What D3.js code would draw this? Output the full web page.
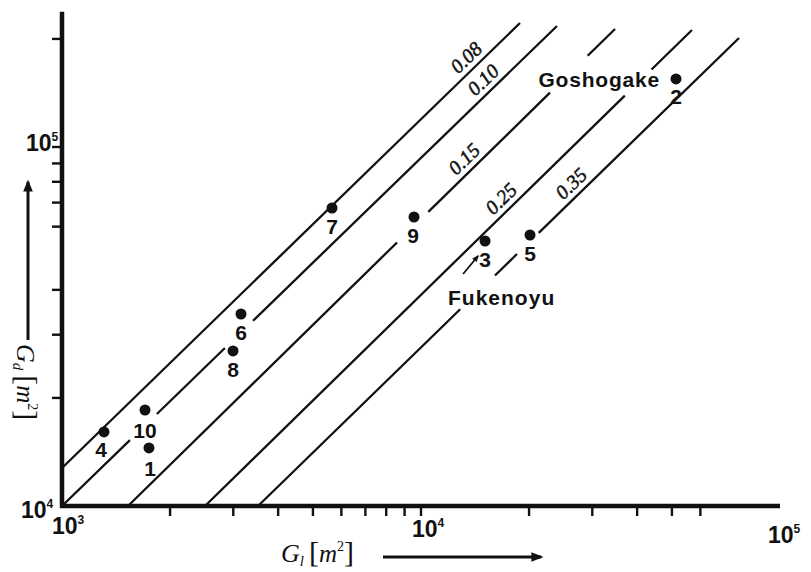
<!DOCTYPE html>
<html>
<head>
<meta charset="utf-8">
<script src="https://cdn.jsdelivr.net/npm/d3@7"></script>
<style>
  body { margin: 0; background: #fff; }
  svg { display: block; }
  .num  { font-family: "Liberation Sans", Arial, sans-serif; font-weight: bold; fill: #111; }
  .ser  { font-family: "Liberation Serif", "Times New Roman", serif; fill: #111; }
</style>
</head>
<body>
<svg id="chart" width="811" height="572"></svg>
<script>
// ── data ──
const pointIds = ["1", "2", "3", "4", "5", "6", "7", "8", "9", "10"];
const pointGl  = [1747, 51320, 15080, 1309, 20120, 3152, 5651, 2995, 9561, 1703];
const pointGd  = [14510, 154700, 54720, 16080, 56870, 34260, 67620, 27030, 63830, 18510];

// constant-ratio lines (Gl, Gd end points) and the gaps left for labels
const ratioLabels = ["0.08", "0.10", "0.15", "0.25", "0.35"];
const lineStart = [[1000, 12760], [1000, 10000], [1527, 10000], [2502, 10000], [3516, 10000]];
const lineEnd   = [[18870, 221500], [23920, 217300], [34710, 213200], [56860, 211800], [76880, 201200]];
const lineGaps  = [
  [],
  [[1546, 1838], [2843, 3405]],
  [[8575, 10480], [22870, 29120]],
  [[36960, 43870]],
  [[12860, 16070], [18510, 21280]]
];
const ratioLabelGl = [14140, 15770, 13960, 17700, 27730];

const xMinorTicks = [2e3, 3e3, 4e3, 5e3, 6e3, 7e3, 8e3, 9e3, 1e4, 2e4, 3e4, 4e4, 5e4, 6e4];
const yMinorTicks = [2e4, 3e4, 4e4, 6e4, 7e4, 8e4, 9e4, 1e5, 2e5];
const xDecades = [["10", "3"], ["10", "4"], ["10", "5"]];
const yDecades = [["10", "4"], ["10", "5"]];

// ── scales ──
const x = d3.scaleLog().domain([1e3, 1e5]).range([62, 780]);
const y = d3.scaleLog().domain([1e4, 1e5]).range([506, 147]);
const yTop = 2.38e5;

const svg = d3.select("#chart");

// ── ratio lines ──
lineStart.forEach((s, i) => {
  const e = lineEnd[i];
  const x0 = x(s[0]), y0 = y(s[1]), x1 = x(e[0]), y1 = y(e[1]);
  const len = Math.hypot(x1 - x0, y1 - y0);
  const frac = g => (x(g) - x0) / (x1 - x0) * len;

  // dash pattern from the gaps
  let dash = [], pos = 0;
  lineGaps[i].forEach(([a, b]) => {
    dash.push(frac(a) - pos, frac(b) - frac(a));
    pos = frac(b);
  });
  dash.push(len - pos + 1, 0);

  svg.append("line")
    .attr("x1", x0).attr("y1", y0)
    .attr("x2", x1).attr("y2", y1)
    .attr("stroke", "#111")
    .attr("stroke-width", 2.3)
    .attr("stroke-dasharray", dash.join(","));

  // label sitting above the line
  const lx = x(ratioLabelGl[i]);
  const ly = y0 + (lx - x0) / (x1 - x0) * (y1 - y0);
  const ang = Math.atan2(y1 - y0, x1 - x0) * 180 / Math.PI;
  svg.append("text")
    .attr("class", "ser")
    .attr("transform", `translate(${lx},${ly}) rotate(${ang})`)
    .attr("y", -6)
    .attr("text-anchor", "middle")
    .attr("font-size", "20px")
    .attr("font-style", "italic")
    .attr("stroke", "#111")
    .attr("stroke-width", 0.5)
    .text(ratioLabels[i]);
});

// ── axes ──
svg.append("path")
  .attr("d", `M${x(1e3)},${y(yTop)} V${y(1e4)} H${x(1e5)}`)
  .attr("fill", "none")
  .attr("stroke", "#111")
  .attr("stroke-width", 4.5);

svg.selectAll(".xt").data(xMinorTicks).join("line")
  .attr("x1", d => x(d)).attr("x2", d => x(d))
  .attr("y1", y(1e4)).attr("y2", y(1e4) + 10)
  .attr("stroke", "#111").attr("stroke-width", 2.4);

svg.selectAll(".yt").data(yMinorTicks).join("line")
  .attr("x1", x(1e3) - 10).attr("x2", x(1e3))
  .attr("y1", d => y(d)).attr("y2", d => y(d))
  .attr("stroke", "#111").attr("stroke-width", 2.4);

// decade labels
const xDecadePos = [[52, 534], [x(1e4) - 9, 537], [x(1e5) - 12, 543]];
xDecades.forEach((d, i) => {
  const t = svg.append("text").attr("class", "num")
    .attr("x", xDecadePos[i][0]).attr("y", xDecadePos[i][1])
    .attr("font-size", "23px");
  t.append("tspan").text(d[0]);
  t.append("tspan").attr("font-size", "12px").attr("dy", -10).text(d[1]);
});
const yDecadePos = [[21, 518], [26, y(1e5) + 4]];
yDecades.forEach((d, i) => {
  const t = svg.append("text").attr("class", "num")
    .attr("x", yDecadePos[i][0]).attr("y", yDecadePos[i][1])
    .attr("font-size", "23px");
  t.append("tspan").text(d[0]);
  t.append("tspan").attr("font-size", "12px").attr("dy", -10).text(d[1]);
});

// ── axis titles with arrows ──
const defs = svg.append("defs");
defs.append("marker")
  .attr("id", "head").attr("viewBox", "0 0 10 10")
  .attr("refX", 8).attr("refY", 5)
  .attr("markerWidth", 4).attr("markerHeight", 4)
  .attr("orient", "auto")
  .append("path").attr("d", "M0,1 L10,5 L0,9 Z").attr("fill", "#111");

function axisTitle(g, sub) {
  const t = g.append("text").attr("class", "ser");
  t.append("tspan").attr("font-size", "26px").attr("font-style", "italic").text("G");
  t.append("tspan").attr("font-size", "15px").attr("font-style", "italic").attr("dy", 4).text(sub);
  t.append("tspan").attr("font-size", "30px").attr("dy", -4).attr("dx", 5).text("[");
  t.append("tspan").attr("font-size", "25px").attr("font-style", "italic").text("m");
  t.append("tspan").attr("font-size", "14px").attr("dy", -11).text("2");
  t.append("tspan").attr("font-size", "30px").attr("dy", 11).text("]");
  return t;
}

const gx = svg.append("g").attr("transform", "translate(281,562)");
axisTitle(gx, "l");
svg.append("line")
  .attr("x1", 383).attr("y1", 557).attr("x2", 541).attr("y2", 557)
  .attr("stroke", "#111").attr("stroke-width", 3)
  .attr("marker-end", "url(#head)");

const gy = svg.append("g").attr("transform", "translate(17,344) rotate(90)");
axisTitle(gy, "d");
svg.append("line")
  .attr("x1", 28).attr("y1", 340).attr("x2", 28).attr("y2", 182)
  .attr("stroke", "#111").attr("stroke-width", 3)
  .attr("marker-end", "url(#head)");

// ── sample points ──
const pts = pointIds.map((id, i) => ({ id, gl: pointGl[i], gd: pointGd[i] }));
const labelNudge = { "4": [-3, -1], "1": [1, 2], "10": [0, 2], "9": [-1, 0], "2": [0, -1] };

svg.selectAll(".pt").data(pts).join("circle")
  .attr("cx", d => x(d.gl))
  .attr("cy", d => y(d.gd))
  .attr("r", 5.5)
  .attr("fill", "#111");

svg.selectAll(".pl").data(pts).join("text")
  .attr("class", "num")
  .attr("x", d => x(d.gl) + (labelNudge[d.id] || [0, 0])[0])
  .attr("y", d => y(d.gd) + 26 + (labelNudge[d.id] || [0, 0])[1])
  .attr("text-anchor", "middle")
  .attr("font-size", "21px")
  .text(d => d.id);

// site names
const p2 = pts[1], p3 = pts[2];
svg.append("text").attr("class", "num")
  .attr("x", x(p2.gl) - 16).attr("y", y(p2.gd) + 8)
  .attr("text-anchor", "end")
  .attr("font-size", "21px")
  .attr("letter-spacing", "0.8px")
  .text("Goshogake");

svg.append("text").attr("class", "num")
  .attr("x", x(p3.gl) - 37).attr("y", y(p3.gd) + 64)
  .attr("font-size", "21px")
  .attr("letter-spacing", "1px")
  .text("Fukenoyu");

svg.append("line")
  .attr("x1", x(p3.gl) - 22).attr("y1", y(p3.gd) + 33)
  .attr("x2", x(p3.gl) - 7).attr("y2", y(p3.gd) + 15)
  .attr("stroke", "#111").attr("stroke-width", 1.8)
  .attr("marker-end", "url(#head)");
</script>
</body>
</html>
